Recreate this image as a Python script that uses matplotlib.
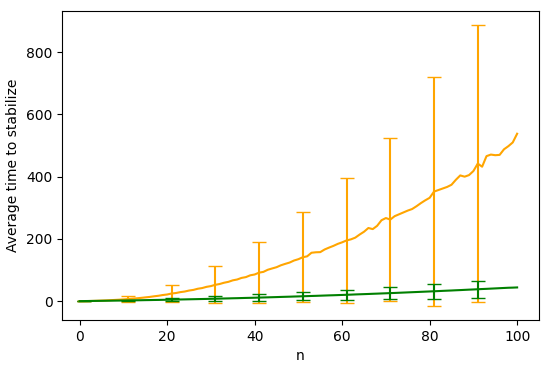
import numpy as np
import matplotlib
matplotlib.use('Agg')
import matplotlib.pyplot as plt

n = list(range(0, 101))

orange_mean = [0, 0, 0.3, 0.7, 1.2, 1.7, 2.3, 3.0, 3.8, 4.6, 5.5,
               6.6, 7.9, 9.0, 10.4, 12.0, 13.5, 15.5, 17.2, 19.6, 21.3,
               24.5, 26.0, 28.9, 30.8, 34.0, 36.1, 39.8, 42.0, 45.9, 48.3,
               52.4, 55.0, 59.1, 62.0, 66.8, 69.5, 74.6, 77.2, 83.0, 85.6,
               91.5, 94.0, 100.8, 105.0, 109.0, 115.2, 119.8, 124.0, 130.5, 134.8,
               141.0, 144.0, 155.5, 157.0, 157.5, 166.0, 172.0, 177.5, 184.0, 189.0,
               195.0, 198.5, 204.0, 214.0, 223.0, 235.0, 231.5, 242.0, 260.0, 267.0,
               262.0, 273.0, 279.0, 285.0, 291.0, 296.0, 305.0, 315.0, 324.0, 332.0,
               352.0, 357.0, 362.0, 367.0, 374.0, 390.0, 404.0, 400.0, 405.0, 418.0,
               442.0, 432.0, 466.0, 471.0, 469.0, 470.0, 488.0, 498.0, 510.0, 538.0]

green_mean = [0, 0.2, 0.4, 0.6, 0.8, 1.0, 1.2, 1.4, 1.6, 1.8, 2.0,
              2.2, 2.5, 2.7, 2.9, 3.2, 3.4, 3.7, 3.9, 4.2, 4.5,
              4.7, 5.0, 5.3, 5.6, 5.9, 6.2, 6.5, 6.8, 7.1, 7.5,
              7.8, 8.1, 8.5, 8.8, 9.2, 9.5, 9.9, 10.3, 10.6, 11.0,
              11.4, 11.8, 12.2, 12.6, 13.0, 13.5, 13.9, 14.3, 14.8, 15.2,
              15.7, 16.1, 16.6, 17.0, 17.5, 18.0, 18.5, 18.9, 19.4, 19.9,
              20.4, 20.9, 21.5, 22.0, 22.5, 23.0, 23.6, 24.1, 24.7, 25.2,
              25.8, 26.3, 26.9, 27.5, 28.1, 28.7, 29.3, 29.9, 30.5, 31.1,
              31.7, 32.3, 33.0, 33.6, 34.2, 34.9, 35.5, 36.2, 36.9, 37.5,
              38.2, 38.9, 39.5, 40.2, 40.9, 41.6, 42.3, 43.0, 43.4, 44.0]

# std only matters where error bars are drawn (1, 11, ..., 91)
orange_err_at = {1: 0, 11: 9.4, 21: 28.5, 31: 59, 41: 97, 51: 145,
                 61: 200, 71: 262, 81: 368, 91: 446}
green_err_at = {1: 0, 11: 3, 21: 5.5, 31: 8, 41: 10, 51: 13,
                61: 16.5, 71: 19, 81: 23.5, 91: 27}

orange_err = [orange_err_at.get(i, 0) for i in n]
green_err = [green_err_at.get(i, 0) for i in n]

fig, ax = plt.subplots(figsize=(5.5, 3.71), dpi=100)
fig.subplots_adjust(left=0.113, right=0.98, top=0.971, bottom=0.137)

ax.errorbar(n, orange_mean, yerr=orange_err, errorevery=(1, 10),
            color='orange', capsize=5)
ax.errorbar(n, green_mean, yerr=green_err, errorevery=(1, 10),
            color='green', capsize=5)

ax.set_xlim(-4, 105)
ax.set_xlabel('n')
ax.set_ylabel('Average time to stabilize')

plt.savefig('out.png')
